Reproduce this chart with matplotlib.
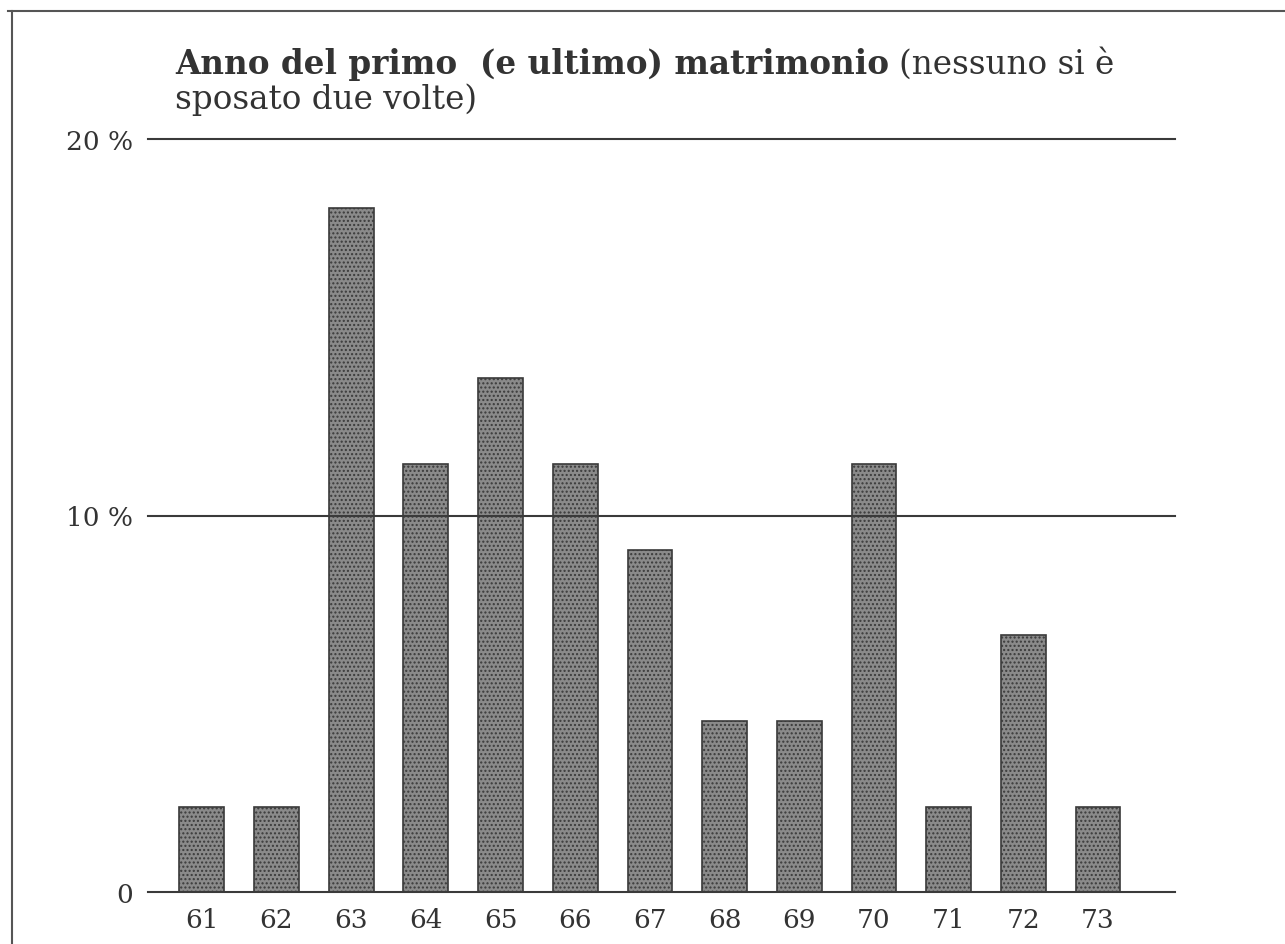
import matplotlib.pyplot as plt
from matplotlib.lines import Line2D

# anno del primo matrimonio, quota in %
anni = [61, 62, 63, 64, 65, 66, 67, 68, 69, 70, 71, 72, 73]
quote = [2.27, 2.27, 18.18, 11.36, 13.64, 11.36, 9.09, 4.55, 4.55, 11.36, 2.27, 6.82, 2.27]
yticks = [0, 10, 20]
ylabels = ['0', '10 %', '20 %']

plt.rcParams['font.family'] = ['DejaVu Serif']
plt.rcParams['hatch.color'] = '#5e5e5e'

W, H = 1285, 945
fig = plt.figure(figsize=(W / 100, H / 100), dpi=100)
ax = fig.add_axes([148 / W, (H - 893) / H, (1175 - 148) / W, (893 - 140) / H])

ax.bar(anni, quote, width=0.6, color='#8a8a8a', edgecolor='#3a3a3a',
       linewidth=1.2, hatch='....', zorder=2)

ax.set_xlim(60.28, 74.03)
ax.set_ylim(0, 20)
ax.set_yticks(yticks)
ax.set_yticklabels(ylabels)
ax.set_xticks(anni)
ax.set_xticklabels([str(a) for a in anni])
ax.tick_params(axis='both', length=0, labelsize=19, colors='#333333')
ax.tick_params(axis='y', pad=11)
ax.tick_params(axis='x', pad=11)
for s in ax.spines.values():
    s.set_visible(False)
for v in yticks:
    ax.axhline(v, color='#3a3a3a', linewidth=1.5, zorder=3, clip_on=False)

# titolo: parte in grassetto + parte normale
t1 = fig.text(175 / W, 1 - 74 / H, 'Anno del primo  (e ultimo) matrimonio',
              fontsize=23.5, fontweight='bold', color='#333333', va='baseline')
fig.canvas.draw()
bb = t1.get_window_extent()
fig.text((bb.x1 + 10) / W, 1 - 74 / H, '(nessuno si è', fontsize=23.5,
         color='#333333', va='baseline')
fig.text(175 / W, 1 - 109 / H, 'sposato due volte)', fontsize=23.5,
         color='#333333', va='baseline')

# cornice
fig.add_artist(Line2D([8 / W, 1], [1 - 12 / H, 1 - 12 / H], color='#555555', linewidth=1.5))
fig.add_artist(Line2D([12 / W, 12 / W], [0, 1 - 12 / H], color='#555555', linewidth=1.5))

fig.savefig('out.png', dpi=100, facecolor='white')
